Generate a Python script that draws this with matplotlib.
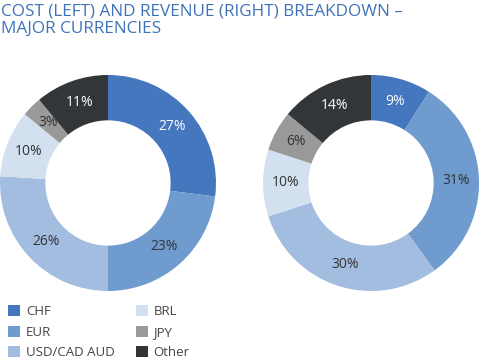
import matplotlib.pyplot as plt
from matplotlib.patches import Patch

categories = ["CHF", "EUR", "USD/CAD AUD", "BRL", "JPY", "Other"]
cost = [27, 23, 26, 10, 3, 11]
revenue = [9, 31, 30, 10, 6, 14]
colors = ["#4477bd", "#6f9bcf", "#a3bde0", "#d3e0f0", "#999999", "#333638"]
label_colors = ["white", "#333333", "#333333", "#333333", "#333333", "white"]

plt.rcParams['font.family'] = ['Open Sans', 'DejaVu Sans']

fig = plt.figure(figsize=(4.8, 3.6), dpi=100)

fig.text(0.002, 0.99, "COST (LEFT) AND REVENUE (RIGHT) BREAKDOWN –\nMAJOR CURRENCIES",
         ha='left', va='top', fontsize=12.3, color="#3f73b8", linespacing=1.1)


def donut(rect, values):
    ax = fig.add_axes(rect)
    wedges, texts, autotexts = ax.pie(
        values, colors=colors, startangle=90, counterclock=False,
        radius=1.0, wedgeprops=dict(width=0.42, edgecolor='none'),
        autopct='%d%%', pctdistance=0.79,
        textprops=dict(fontsize=10))
    for t, c in zip(autotexts, label_colors):
        t.set_color(c)
    ax.set_xlim(-1, 1)
    ax.set_ylim(-1, 1)
    ax.set_aspect('equal')
    ax.axis('off')


donut([0.0, 0.1917, 0.45, 0.6], cost)
donut([0.548, 0.1917, 0.45, 0.6], revenue)

handles = [Patch(facecolor=c, edgecolor='none') for c in colors]
leg = fig.legend(handles, categories,
                 loc='lower left', bbox_to_anchor=(-0.008, -0.03), ncol=2,
                 frameon=False, fontsize=9.5, handlelength=0.9, handleheight=0.9,
                 handletextpad=0.45, columnspacing=1.6, labelspacing=0.55,
                 labelcolor="#444444")

fig.savefig("out.png", dpi=100)
